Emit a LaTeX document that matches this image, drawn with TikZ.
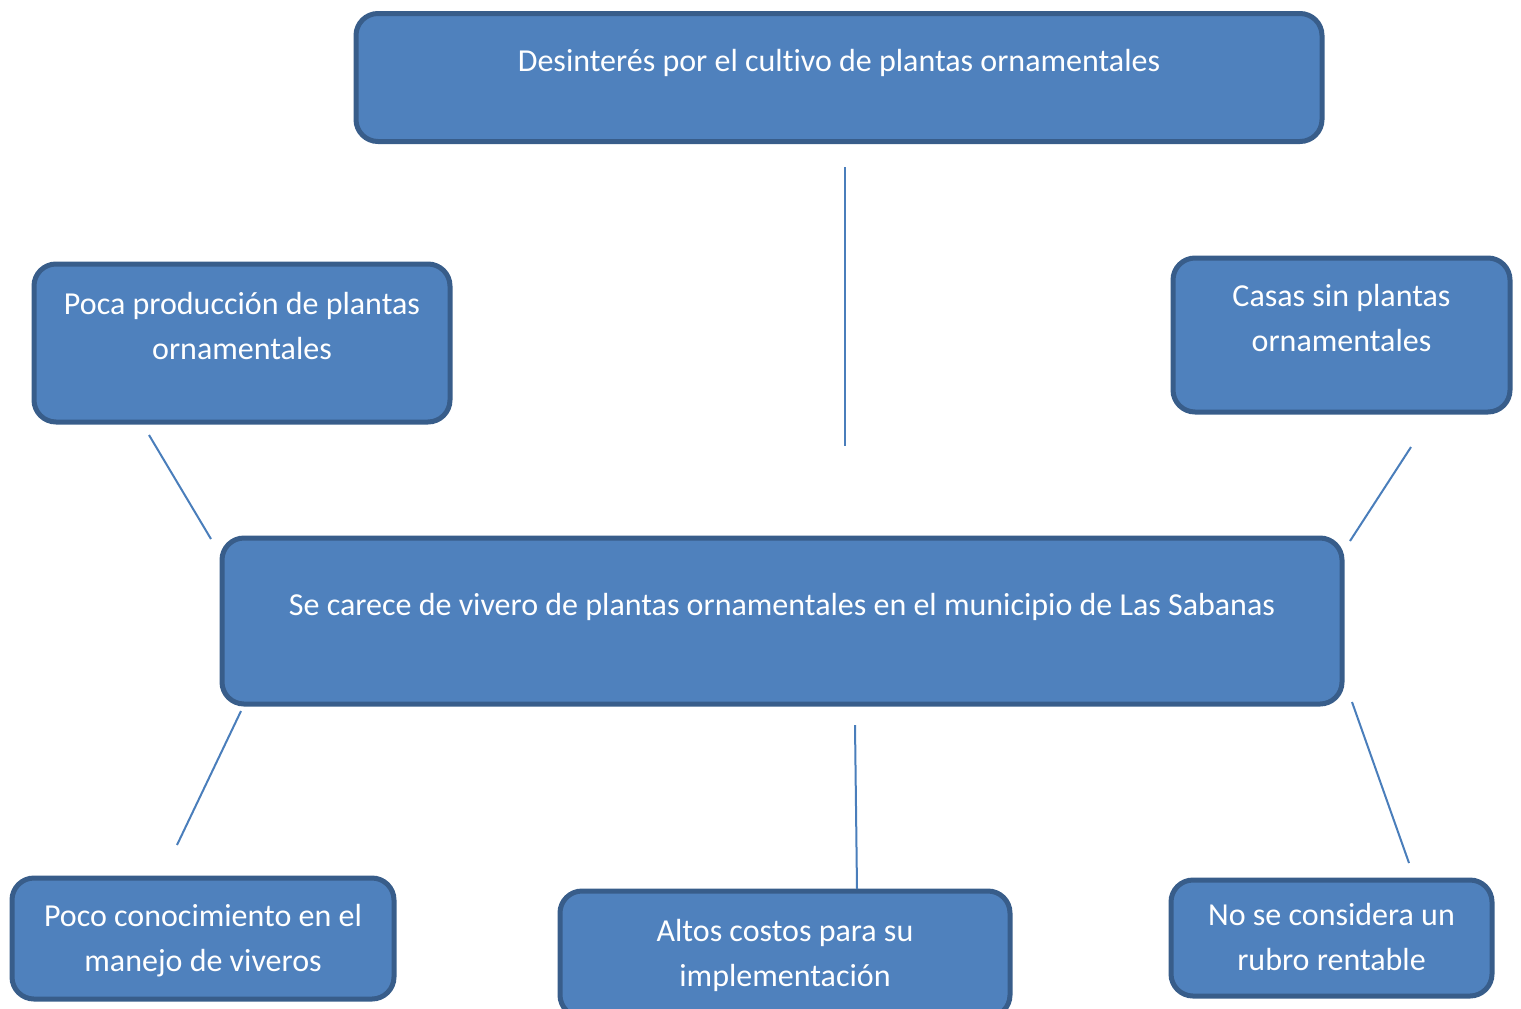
\documentclass[tikz,border=0pt]{standalone}
\usepackage{fontspec}
\setmainfont{Carlito}[Ligatures=NoCommon]
\usepackage{tikz}

\definecolor{boxfill}{HTML}{4F81BD}
\definecolor{boxline}{HTML}{385D8A}
\definecolor{linkline}{HTML}{4A7EBB}

\begin{document}
\begin{tikzpicture}[x=0.5pt, y=-0.5pt,
    box/.style={draw=boxline, fill=boxfill, line width=2.5pt, rounded corners=11pt,
      text=white, align=center, inner sep=0pt, text depth=17pt,
      font=\fontsize{16}{22.5}\selectfont},
    lowbox/.style={box, text depth=1pt},
    link/.style={draw=linkline, line width=1pt}]
    \useasboundingbox (0,0) rectangle (1521,1008);
    \clip (0,0) rectangle (1521,1008);

    \node[box, minimum width=483pt, minimum height=64pt] (problem) at (839,77.5) {Desinterés por el cultivo de plantas ornamentales};
    \node[box, minimum width=208pt, minimum height=79pt] (produccion) at (242,343) {Poca producción de plantas\\ornamentales};
    \node[box, minimum width=168.5pt, minimum height=77pt] (casas) at (1341.5,335) {Casas sin plantas\\ornamentales};
    \node[box, minimum width=560pt, minimum height=83pt] (vivero) at (782,621) {Se carece de vivero de plantas ornamentales en el municipio de Las Sabanas};
    \node[lowbox, minimum width=191pt, minimum height=60.5pt] (conocimiento) at (203,938.5) {Poco conocimiento en el\\manejo de viveros};
    \node[lowbox, minimum width=225pt, minimum height=63pt] (costos) at (785,954) {Altos costos para su\\implementación};
    \node[lowbox, minimum width=160.5pt, minimum height=58pt] (rubro) at (1331.5,938) {No se considera un\\rubro rentable};

    \coordinate (ua) at (845,167);
    \coordinate (ub) at (845,446);
    \coordinate (la) at (149,435);
    \coordinate (lb) at (211,539);
    \coordinate (ra) at (1411,447);
    \coordinate (rb) at (1350,541);
    \coordinate (dla) at (241,711);
    \coordinate (dlb) at (177,845);
    \coordinate (dma) at (855,725);
    \coordinate (dmb) at (857,889);
    \coordinate (dra) at (1352,702);
    \coordinate (drb) at (1409,863);

    \draw[link] (ua) -- (ub);
    \draw[link] (la) -- (lb);
    \draw[link] (ra) -- (rb);
    \draw[link] (dla) -- (dlb);
    \draw[link] (dma) -- (dmb);
    \draw[link] (dra) -- (drb);
\end{tikzpicture}
\end{document}
